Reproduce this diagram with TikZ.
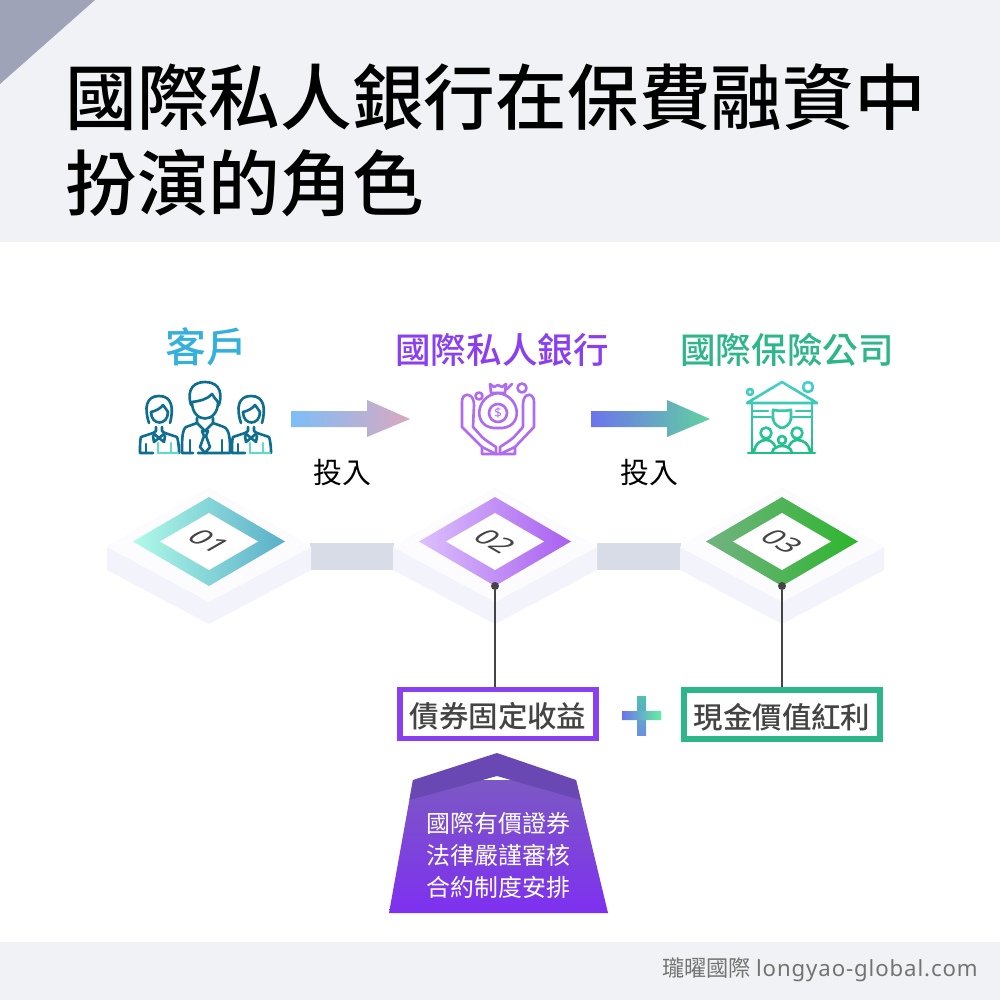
\documentclass[tikz,border=0pt]{standalone}
\usepackage{fontspec}
\setmainfont{Noto Sans CJK TC}
\newfontfamily\latinf{Noto Sans}
\newfontfamily\latinw[LetterSpace=4]{Noto Sans}
\newfontfamily\titlef{Noto Sans CJK TC Medium}
\usetikzlibrary{calc}
\definecolor{bandc}{HTML}{F0F2F5}
\definecolor{cornerc}{HTML}{9EA3B8}
\definecolor{bluec}{HTML}{34B0DC}
\definecolor{purplec}{HTML}{8A3FF0}
\definecolor{greenc}{HTML}{2DB68A}
\definecolor{barc}{HTML}{D8DCE6}
\definecolor{platc}{HTML}{FCFCFE}
\definecolor{sidec}{HTML}{F3F4FB}
\definecolor{pinc}{HTML}{444444}
\definecolor{icdark}{HTML}{0E6E90}
\definecolor{icteal}{HTML}{5ADCC8}
\definecolor{icpurple}{HTML}{B06CF0}
\definecolor{aoa}{HTML}{7DBEF8}\definecolor{aob}{HTML}{DBA8C0}
\definecolor{ata}{HTML}{6C74EC}\definecolor{atb}{HTML}{60D2A0}
\definecolor{plb}{HTML}{60F0A0}\definecolor{plvt}{HTML}{50C0B0}\definecolor{plvb}{HTML}{6C90E0}
\definecolor{hta}{HTML}{45CFC8}\definecolor{htb}{HTML}{1FBF85}
\definecolor{d1a}{HTML}{B0FAE8}\definecolor{d1b}{HTML}{5AAFC8}
\definecolor{d2a}{HTML}{DCC0FC}\definecolor{d2b}{HTML}{A860F0}
\definecolor{d3a}{HTML}{72B382}\definecolor{d3b}{HTML}{2DB52D}
\definecolor{ptop}{HTML}{7C58C4}\definecolor{pbot}{HTML}{7E30F0}\definecolor{pcap}{HTML}{6A48B4}
\newcommand{\pxfont}[1]{\fontsize{\dimexpr #1pt*567/1000\relax}{\dimexpr #1pt*567/1000\relax}\selectfont}
\tikzset{
  x=0.02cm,y=-0.02cm,
  lab/.style={inner sep=0pt,anchor=center},
  pin/.style={circle,fill=pinc,inner sep=0pt,minimum size=0.16cm},
  pinline/.style={draw=pinc,line width=0.8pt},
  ic/.style={line width=1.5pt,line cap=round,line join=round,fill=none},
  valbox/.style={lab,line width=2.9pt,text=pinc,minimum width=3.92cm,minimum height=0.98cm,font=\titlef\pxfont{29.6}},
  pedtext/.style={lab,text=white,font=\pxfont{24}},
}
\newcommand{\platform}[5]{%
  \begin{scope}[shift={(#1,0)}]
    \fill[sidec] (-102,547)--(-102,570)--(0,624)--(102,570)--(102,547)--(0,488)--cycle;
    \fill[platc] (-102,547)--(0,488)--(102,547)--(0,602)--cycle;
    \path[left color=#2,right color=#3] (-76,541.5)--(0,497)--(76,541.5)--(0,586)--cycle;
    \fill[white] (-49,541.5)--(0,513)--(49,541.5)--(0,570)--cycle;
    \node[lab,text=pinc,cm={0.866,-0.5,0.866,0.5,(0,541.5)},font=\latinf\pxfont{29}] (#4) at (0,0) {#5};
  \end{scope}}
\newcommand{\womanicon}[1]{%
  \begin{scope}[shift={(#1,0)}]
    \begin{scope}[ic,draw=icdark]
      \draw (-10,423) .. controls (-15,408) and (-13,396) .. (0,396) .. controls (13,396) and (15,408) .. (11,423);
      \draw (-8,412) .. controls (-3,411) and (2,408) .. (4,405) .. controls (6,408) and (8,410) .. (9,412);
      \draw (-8,412) .. controls (-8,426) and (9,426) .. (9,412);
      \draw (-3,427)--(-3,431)--(-6,433)--(-18,437) .. controls (-19,440) and (-19,445) .. (-19,453)--(-6,453);
      \draw (3,427)--(3,431)--(6,433)--(18,437) .. controls (19,440) and (20,445) .. (20,453);
      \draw (-6,433)--(0,438)--(6,433) (-5,442)--(0,438)--(5,442)--(6,436) (-5,442)--(-6,436);
      \draw (-13,444)--(-13,453);
    \end{scope}
    \begin{scope}[ic,draw=icteal]
      \draw (-1,453)--(19,453) (-1,443)--(-1,453) (12,443)--(12,453);
    \end{scope}
  \end{scope}}
\newcommand{\houseicon}{%
  \draw (747,403)--(782,382)--(817,403)--cycle;
  \draw (752,403)--(752,453) (812,403)--(812,453) (748,453)--(815,453);
  \draw (750,392) circle (3) (808,387) circle (5);
  \draw (753,411)--(768,411) (753,417)--(771,417) (796,411)--(811,411) (793,417)--(811,417);
  \draw (773,410) .. controls (779,411) and (785,411) .. (791,410)--(791,419) .. controls (790,425) and (785,427) .. (782,428) .. controls (779,427) and (774,425) .. (773,419)--cycle;
  \draw (766,433) circle (5.5) (782,440) circle (4) (797,433) circle (5.5);
  \draw (754,452) .. controls (755,444) and (760,440) .. (766,440) .. controls (770,440) and (773,442) .. (775,446);
  \draw (810,452) .. controls (809,444) and (804,440) .. (797,440) .. controls (794,440) and (791,442) .. (789,446);
  \draw (772,453) .. controls (773,448) and (777,446) .. (782,446) .. controls (787,446) and (791,448) .. (792,453);
}
\begin{document}
\begin{tikzpicture}
\useasboundingbox (0,0) rectangle (1000,1000);
\fill[white] (0,0) rectangle (1000,1000);
\fill[bandc] (0,0) rectangle (1000,242);
\fill[cornerc] (0,0)--(95,0)--(0,84)--cycle;
\fill[bandc] (0,942) rectangle (1000,1000);
% title
\node[lab,anchor=west,font=\titlef\pxfont{72}] (title1) at (65,97) {國際私人銀行在保費融資中};
\node[lab,anchor=west,font=\titlef\pxfont{72}] (title2) at (65,183) {扮演的角色};
% headings
\node[lab,text=bluec,font=\titlef\pxfont{41}] (head1) at (206.5,347) {客戶};
\node[lab,text=purplec,font=\titlef\pxfont{35.7}] (head2) at (502,350) {國際私人銀行};
\node[lab,text=greenc,font=\titlef\pxfont{35.7}] (head3) at (787,350) {國際保險公司};
% people icon
\womanicon{159}
\womanicon{251}
\begin{scope}[ic,draw=icdark]
  \draw (191,405) .. controls (186,388) and (195,382) .. (205,382) .. controls (215,382) and (224,388) .. (219,405);
  \draw (192,402) .. controls (200,401) and (208,399) .. (212,394) .. controls (214,397) and (216,400) .. (218,402);
  \draw (192,402) .. controls (192,424) and (218,424) .. (218,402);
  \draw (197,418)--(197,423)--(186,427) .. controls (182,430) and (182,440) .. (182,453)--(193,453);
  \draw (213,418)--(213,423)--(224,427) .. controls (230,430) and (230,440) .. (230,453)--(198,453);
  \draw (197,423)--(205,431)--(213,423) (201,427)--(205,431)--(209,427);
  \draw (202,431)--(208,431)--(206,436)--(210,447)--(205,453)--(200,447)--(204,436)--cycle;
  \draw (190,440)--(190,453) (222,440)--(222,453);
\end{scope}
% arrows
\path[left color=aoa,right color=aob]
  (291,411)--(367,411)--(367,400)--(410,419)--(367,437)--(367,427)--(291,427)--cycle;
\path[left color=ata,right color=atb]
  (591,411)--(667,411)--(667,400)--(710,419)--(667,437)--(667,427)--(591,427)--cycle;
\node[lab,font=\pxfont{29}] (in1) at (342,473) {投入};
\node[lab,font=\pxfont{29}] (in2) at (649,473) {投入};
% bank icon
\begin{scope}[ic,draw=icpurple]
  \draw (498,393) .. controls (474,396) and (472,430) .. (498,428) .. controls (524,430) and (522,396) .. (498,393);
  \draw (498,413) circle (9);
  \node[lab,text=icpurple,font=\latinf\pxfont{13}] (dollar) at (498,413) {\$};
  \draw (491,393)--(505,393) (491,393)--(490,384)--(494,387)--(498,385)--(502,387)--(506,384)--(505,393);
  \draw (507,389)--(512,384);
  \draw (479,396) circle (3.5) (522,388) circle (4.5);
  \draw (473,427)--(474,405) .. controls (474,395) and (467,393) .. (464,396) .. controls (462,398) and (462,400) .. (462,402)--(462,427)--(482,447)--(482,454)--(515,454)--(515,447)--(534,427)--(534,402) .. controls (534,400) and (534,398) .. (532,396) .. controls (529,393) and (523,395) .. (523,405)--(523,427);
  \draw (473,427)--(482,437) .. controls (485,440) and (490,443) .. (496,447)--(496,454);
  \draw (523,427)--(514,437) .. controls (511,440) and (506,443) .. (500,447)--(500,454);
  \draw (482,447)--(496,454) (515,447)--(500,454);
\end{scope}
% house icon: top-to-bottom colour change in bands
\foreach \k in {0,...,7}{
  \pgfmathsetmacro{\yy}{378+10*\k}
  \pgfmathsetmacro{\yz}{388+10*\k}
  \pgfmathsetmacro{\mixv}{100-100*\k/7}
  \colorlet{hc}{hta!\mixv!htb}
  \begin{scope}
    \clip (740,\yy) rectangle (825,\yz);
    \begin{scope}[ic,draw=hc]\houseicon\end{scope}
  \end{scope}
}
% connecting bars
\fill[barc] (310,543) rectangle (394,570);
\fill[barc] (597,543) rectangle (681,570);
% platforms
\platform{209}{d1a}{d1b}{num1}{01}
\platform{495}{d2a}{d2b}{num2}{02}
\platform{782}{d3a}{d3b}{num3}{03}
% boxes
\node[valbox,draw=purplec] (box1) at (498,714) {\raisebox{-1.4pt}[\height][\depth]{債券固定收益}};
\node[valbox,draw=greenc] (box2) at (782,714.5) {\raisebox{-1.4pt}[\height][\depth]{現金價值紅利}};
% pins
\node[pin] (pin2) at (495,586) {};
\node[pin] (pin3) at (782,586) {};
\draw[pinline] (pin2) -- (pin2 |- box1.north);
\draw[pinline] (pin3) -- (pin3 |- box2.north);
% plus
\path[top color=plvt,bottom color=plvb] (637,696) rectangle (646,735);
\path[left color=ata,right color=plb] (622,711)--(637,711)--(646,711)--(661,711)--(661,720)--(622,720)--cycle;
% pedestal
\path[top color=ptop,bottom color=pbot] (413,780)--(576,780)--(608,913)--(389,913)--cycle;
\fill[pcap] (497,753)--(576,780)--(580.8,800)--(497,776)--(409.4,800)--(413,780)--cycle;
\node[pedtext] (ped1) at (498.5,823) {國際有價證券};
\node[pedtext] (ped2) at (498.5,855) {法律嚴謹審核};
\node[pedtext] (ped3) at (498.5,887) {合約制度安排};
% footer
\node[lab,anchor=east,text=black!55,font=\pxfont{22.3}] (foot) at (978,970) {瓏曜國際 {\latinw longyao-global.com}};
\end{tikzpicture}
\end{document}
